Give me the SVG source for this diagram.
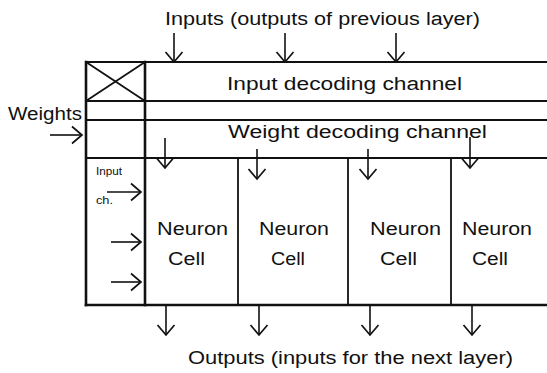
<svg xmlns="http://www.w3.org/2000/svg" width="547" height="373" viewBox="0 0 547 373">
<defs>
<style>
.t{font-family:"Liberation Sans",Arial,sans-serif;fill:#111;}
.thick{stroke:#111;stroke-width:2.6;fill:none;stroke-linecap:square;}
.thin{stroke:#111;stroke-width:1.8;fill:none;}
.arr{stroke:#111;stroke-width:1.6;fill:none;marker-end:url(#v);}
</style>
<marker id="v" markerUnits="userSpaceOnUse" markerWidth="30" markerHeight="30" viewBox="-15 -15 30 30" refX="0" refY="0" orient="auto" overflow="visible">
<path d="M-10,-8.5 L0,0 L-10,8.5" fill="none" stroke="#111" stroke-width="1.7"/>
</marker>
</defs>
<rect width="547" height="373" fill="#fff"/>

<g id="frame">
<line class="thin" x1="86" y1="62" x2="547" y2="62"/>
<line class="thin" x1="86" y1="101" x2="547" y2="101"/>
<line class="thin" x1="86" y1="120" x2="547" y2="120"/>
<line class="thin" x1="86" y1="158" x2="547" y2="158"/>
<line class="thick" x1="86" y1="305" x2="547" y2="305"/>
<line class="thick" x1="86" y1="62" x2="86" y2="305"/>
<line class="thick" x1="145" y1="62" x2="145" y2="305"/>
</g>

<g id="corner-box">
<line class="thin" x1="86" y1="62" x2="145" y2="101"/>
<line class="thin" x1="145" y1="62" x2="86" y2="101"/>
</g>

<g id="input-decoding-channel">
<text class="t" x="227" y="90" font-size="18" textLength="235" lengthAdjust="spacingAndGlyphs">Input decoding channel</text>
</g>

<g id="weight-decoding-channel">
<text class="t" x="228" y="138" font-size="18" textLength="259" lengthAdjust="spacingAndGlyphs">Weight decoding channel</text>
</g>

<g id="input-channel">
<text class="t" x="96" y="175" font-size="10" textLength="26" lengthAdjust="spacingAndGlyphs">Input</text>
<text class="t" x="96" y="204" font-size="10" textLength="17" lengthAdjust="spacingAndGlyphs">ch.</text>
</g>

<g id="cell1">
<text class="t" x="157" y="235" font-size="18" textLength="71" lengthAdjust="spacingAndGlyphs">Neuron</text>
<text class="t" x="168" y="265" font-size="18" textLength="37" lengthAdjust="spacingAndGlyphs">Cell</text>
</g>
<g id="cell2">
<line class="thin" x1="238" y1="158" x2="238" y2="305"/>
<text class="t" x="259" y="235" font-size="18" textLength="70" lengthAdjust="spacingAndGlyphs">Neuron</text>
<text class="t" x="271" y="265" font-size="18" textLength="34" lengthAdjust="spacingAndGlyphs">Cell</text>
</g>
<g id="cell3">
<line class="thin" x1="348" y1="158" x2="348" y2="305"/>
<text class="t" x="370" y="235" font-size="18" textLength="71" lengthAdjust="spacingAndGlyphs">Neuron</text>
<text class="t" x="380" y="265" font-size="18" textLength="37" lengthAdjust="spacingAndGlyphs">Cell</text>
</g>
<g id="cell4">
<line class="thin" x1="451" y1="158" x2="451" y2="305"/>
<text class="t" x="462" y="235" font-size="18" textLength="70" lengthAdjust="spacingAndGlyphs">Neuron</text>
<text class="t" x="472" y="265" font-size="18" textLength="36" lengthAdjust="spacingAndGlyphs">Cell</text>
</g>

<g id="labels">
<text class="t" x="165" y="25" font-size="18" textLength="315" lengthAdjust="spacingAndGlyphs">Inputs (outputs of previous layer)</text>
<text class="t" x="8" y="120" font-size="18" textLength="74" lengthAdjust="spacingAndGlyphs">Weights</text>
<text class="t" x="188" y="364" font-size="18" textLength="325" lengthAdjust="spacingAndGlyphs">Outputs (inputs for the next layer)</text>
</g>

<g id="connectors">
<line class="arr" x1="174" y1="33" x2="174" y2="62"/>
<line class="arr" x1="285" y1="33" x2="285" y2="62"/>
<line class="arr" x1="396" y1="33" x2="396" y2="62"/>
<line class="arr" x1="50" y1="135" x2="82" y2="135"/>
<line class="arr" x1="165" y1="138" x2="165" y2="168"/>
<line class="arr" x1="257" y1="149" x2="257" y2="179"/>
<line class="arr" x1="368" y1="149" x2="368" y2="179"/>
<line class="arr" x1="470" y1="137" x2="470" y2="168"/>
<line class="arr" x1="107" y1="192" x2="141" y2="192"/>
<line class="arr" x1="111" y1="242" x2="141" y2="242"/>
<line class="arr" x1="111" y1="282" x2="141" y2="282"/>
<line class="arr" x1="166" y1="306" x2="166" y2="335"/>
<line class="arr" x1="259" y1="306" x2="259" y2="335"/>
<line class="arr" x1="370" y1="306" x2="370" y2="335"/>
<line class="arr" x1="472" y1="306" x2="472" y2="335"/>
</g>
</svg>
